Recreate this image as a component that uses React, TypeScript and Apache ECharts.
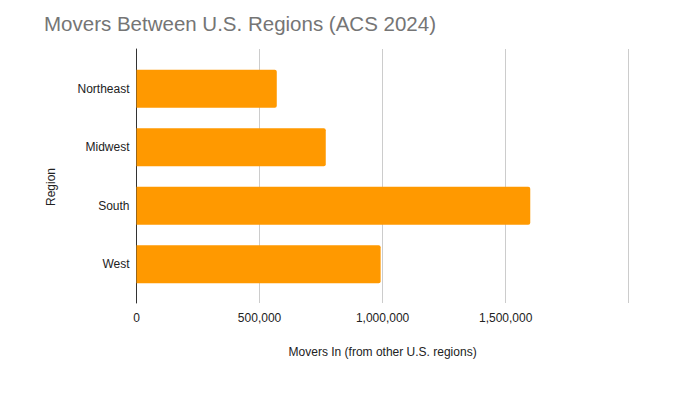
import React, { useEffect, useRef } from "react";
import * as echarts from "echarts";

const categories = ["Northeast", "Midwest", "South", "West"];
const moversIn = [570000, 769000, 1600000, 992000];
const xTicks = [0, 500000, 1000000, 1500000, 2000000];

const FONT = "'Liberation Sans', Arial, sans-serif";

export default function App() {
  const ref = useRef<HTMLDivElement>(null);
  useEffect(() => {
    if (!ref.current) return;
    const chart = echarts.init(ref.current, null, { renderer: "svg" });
    const fmt = (v: number) =>
      v === xTicks[xTicks.length - 1] ? "" : v.toLocaleString("en-US");
    chart.setOption({
      animation: false,
      backgroundColor: "#ffffff",
      textStyle: { fontFamily: FONT },
      title: {
        text: "Movers Between U.S. Regions (ACS 2024)",
        left: 39,
        top: 8,
        textStyle: { color: "#757575", fontSize: 20.5, fontWeight: "normal", fontFamily: FONT },
      },
      graphic: [
        {
          type: "text",
          x: 51,
          y: 187,
          rotation: Math.PI / 2,
          style: {
            text: "Region",
            fill: "#222222",
            font: `12px ${FONT}`,
            textAlign: "center",
            textVerticalAlign: "middle",
          },
        },
      ],
      grid: [
        { left: 136.5, right: 52.3, top: 49, height: 254 },
        { left: 136.5, right: 52.3, top: 59.6, height: 234 },
      ],
      xAxis: [
        {
          type: "value",
          gridIndex: 0,
          min: xTicks[0],
          max: xTicks[xTicks.length - 1],
          interval: 500000,
          axisLine: { show: false },
          axisTick: { show: false },
          splitLine: { show: true, lineStyle: { color: "#cccccc", width: 1 } },
          axisLabel: {
            color: "#222222",
            fontSize: 12,
            margin: 9,
            formatter: fmt,
          },
          name: "Movers In (from other U.S. regions)",
          nameLocation: "middle",
          nameGap: 43,
          nameTextStyle: { color: "#222222", fontSize: 12 },
        },
        {
          type: "value",
          gridIndex: 1,
          min: xTicks[0],
          max: xTicks[xTicks.length - 1],
          interval: 500000,
          show: false,
          splitLine: { show: false },
        },
      ],
      yAxis: [
        {
          type: "category",
          gridIndex: 0,
          data: categories,
          inverse: true,
          axisLine: { show: true, lineStyle: { color: "#333333", width: 1 } },
          axisTick: { show: false },
          axisLabel: { show: false },
          splitLine: { show: false },
        },
        {
          type: "category",
          gridIndex: 1,
          data: categories,
          inverse: true,
          axisLine: { show: false },
          axisTick: { show: false },
          axisLabel: { color: "#222222", fontSize: 12, margin: 7 },
          splitLine: { show: false },
        },
      ],
      series: [
        {
          type: "bar",
          xAxisIndex: 1,
          yAxisIndex: 1,
          data: moversIn,
          barCategoryGap: "35%",
          itemStyle: { color: "#ff9900", borderRadius: [0, 2, 2, 0] },
        },
      ],
    });
    return () => chart.dispose();
  }, []);
  return <div ref={ref} style={{ width: 681, height: 399, position: "absolute", left: 0, top: 0 }} />;
}
